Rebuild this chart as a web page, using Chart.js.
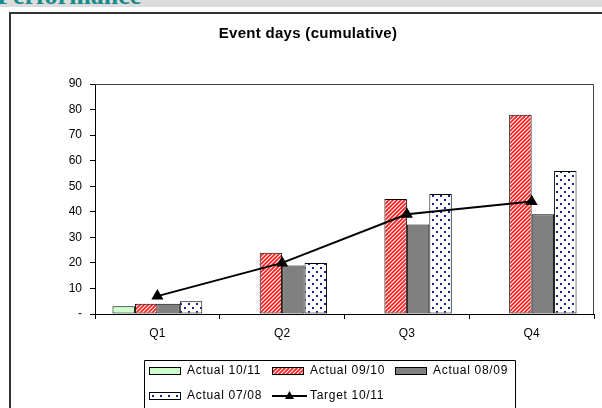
<!DOCTYPE html>
<html>
<head>
<meta charset="utf-8">
<script src="https://cdn.jsdelivr.net/npm/chart.js@4"></script>
<style>
  body { margin: 0; width: 602px; height: 408px; overflow: hidden; background: #fff; position: relative; font-family: Arial, "Liberation Sans", sans-serif; }
  #band { position: absolute; left: 0; top: 0; width: 602px; height: 7px; background: #dcdcdc; overflow: hidden; }
  #band span { position: absolute; left: -3px; bottom: 1px; font: bold 26px "Liberation Serif", serif; color: #178a8a; line-height: 20px; }
  #frame { position: absolute; left: 9px; top: 12px; width: 620px; height: 420px; border: 2px solid #333; box-sizing: border-box; }
  #wrap { position: absolute; left: 11px; top: 14px; width: 591px; height: 394px; }
</style>
</head>
<body>
<div id="band"><span>Performance</span></div>
<div id="frame"></div>
<div id="wrap"><canvas id="chart"></canvas></div>
<script>
// values
const quarters = ['Q1', 'Q2', 'Q3', 'Q4'];
const actual1011 = [3, null, null, null];
const actual0910 = [4, 24, 45, 78];
const actual0809 = [4, 19, 35, 39];
const actual0708 = [5, 20, 47, 56];
const target1011 = [7, 20, 39, 44];
const yTicks = [0, 10, 20, 30, 40, 50, 60, 70, 80, 90];
const chartTitle = 'Event days (cumulative)';

//hatched red pattern
function stripes() {
  const c = document.createElement('canvas');
  c.width = 4; c.height = 4;
  const g = c.getContext('2d');
  g.fillStyle = '#fff';
  g.fillRect(0, 0, 4, 4);
  g.strokeStyle = '#ff2020';
  g.lineWidth = 1.8;
  g.beginPath();
  g.moveTo(-1, 5); g.lineTo(5, -1);
  g.moveTo(-1, 1); g.lineTo(1, -1);
  g.moveTo(3, 5); g.lineTo(5, 3);
  g.stroke();
  return g.createPattern(c, 'repeat');
}
//white with navy dots
function dots() {
  const c = document.createElement('canvas');
  c.width = 8; c.height = 8;
  const g = c.getContext('2d');
  g.fillStyle = '#fff';
  g.fillRect(0, 0, 8, 8);
  g.fillStyle = '#1020a0';
  g.fillRect(1, 1, 2, 2);
  g.fillRect(5, 5, 2, 2);
  return g.createPattern(c, 'repeat');
}

const font = 'Arial, "Liberation Sans", sans-serif';

// title, border round the plot, legend box
const extras = {
  id: 'extras',
  beforeDatasetsDraw(chart) {
    const a = chart.chartArea;
    const ctx = chart.ctx;
    ctx.save();
    ctx.strokeStyle = '#404040';
    ctx.lineWidth = 1;
    ctx.beginPath();
    ctx.moveTo(a.left, a.top + 0.5);
    ctx.lineTo(a.right - 0.5, a.top + 0.5);
    ctx.lineTo(a.right - 0.5, a.bottom);
    ctx.stroke();
    ctx.restore();
  },
  afterDraw(chart) {
    const ctx = chart.ctx;
    const ds = chart.data.datasets;
    ctx.save();
    ctx.fillStyle = '#000';
    ctx.font = 'bold 15px ' + font;
    ctx.letterSpacing = '0.3px';
    ctx.textAlign = 'center';
    ctx.textBaseline = 'middle';
    ctx.fillText(chartTitle, 297, 20);
    ctx.textAlign = 'left';

    ctx.strokeStyle = '#000';
    ctx.lineWidth = 1;
    ctx.beginPath();
    ctx.moveTo(133.5, 400);
    ctx.lineTo(133.5, 346.5);
    ctx.lineTo(504.5, 346.5);
    ctx.lineTo(504.5, 400);
    ctx.stroke();
    const slots = [[261, 382], [138, 357], [261, 357], [384, 357], [138, 382]];
    ctx.font = '12px ' + font;
    ctx.letterSpacing = '0.7px';
    ds.forEach((d, i) => {
      const [x, y] = slots[i];
      if (d.type === 'line') {
        ctx.beginPath();
        ctx.lineWidth = 2;
        ctx.moveTo(x, y);
        ctx.lineTo(x + 35, y);
        ctx.stroke();
        ctx.beginPath();
        ctx.moveTo(x + 17.5, y - 5);
        ctx.lineTo(x + 22, y + 3);
        ctx.lineTo(x + 13, y + 3);
        ctx.closePath();
        ctx.fill();
        ctx.fillText(d.label, x + 38, y);
      } else {
        ctx.fillStyle = d.backgroundColor;
        ctx.fillRect(x, y - 3.5, 32, 7);
        ctx.lineWidth = 1;
        ctx.strokeRect(x + 0.5, y - 3.5, 31, 7);
        ctx.fillStyle = '#000';
        ctx.fillText(d.label, x + 38, y);
      }
    });
    ctx.restore();
  }
};

const barStyle = { borderColor: '#000', borderWidth: 1, borderSkipped: false };

new Chart(document.getElementById('chart'), {
  data: {
    labels: quarters,
    datasets: [
      { type: 'line', label: 'Target 10/11', data: target1011, borderColor: '#000', backgroundColor: '#000',
        borderWidth: 2, pointStyle: 'triangle', pointRadius: 7, pointBorderWidth: 0, order: 0 },
      { type: 'bar', label: 'Actual 10/11', data: actual1011, backgroundColor: '#ccffcc', ...barStyle, order: 1 },
      { type: 'bar', label: 'Actual 09/10', data: actual0910, backgroundColor: stripes(), ...barStyle, order: 1 },
      { type: 'bar', label: 'Actual 08/09', data: actual0809, backgroundColor: '#808080', ...barStyle, order: 1 },
      { type: 'bar', label: 'Actual 07/08', data: actual0708, backgroundColor: dots(), ...barStyle, order: 1 },
    ]
  },
  options: {
    responsive: true,
    maintainAspectRatio: false,
    animation: false,
    layout: { padding: { left: 0, right: 8, top: 70, bottom: 0 } },
    datasets: { bar: { categoryPercentage: 0.72, barPercentage: 1 } },
    plugins: {
      legend: { display: false },
      tooltip: { enabled: false },
      title: { display: false }
    },
    scales: {
      x: {
        offset: true,
        grid: { display: true, offset: true, drawOnChartArea: false, drawTicks: true, tickLength: 5, color: '#000' },
        border: { color: '#000', width: 1 },
        ticks: { color: '#000', font: { family: font, size: 12 }, padding: 7 },
        afterFit(s) { s.height = 94; }
      },
      y: {
        min: 0, max: 90,
        afterBuildTicks(s) { s.ticks = yTicks.map(v => ({ value: v })); },
        grid: { display: true, drawOnChartArea: false, drawTicks: true, tickLength: 5, color: '#000' },
        border: { color: '#000', width: 1 },
        ticks: { color: '#000', font: { family: font, size: 12 }, padding: 8,
          callback: v => v === 0 ? '-' : v },
        afterFit(s) { s.width = 84; }
      }
    }
  },
  plugins: [extras]
});
</script>
</body>
</html>
